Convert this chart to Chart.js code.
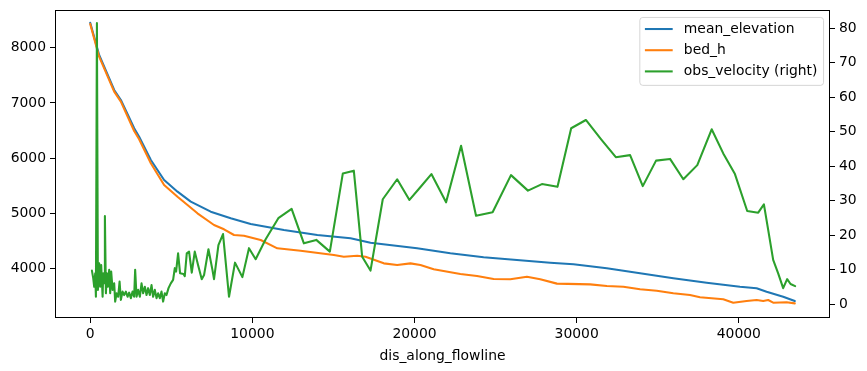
<!DOCTYPE html>
<html>
<head>
<meta charset="utf-8">
<script src="https://cdn.jsdelivr.net/npm/chart.js@4.4.0/dist/chart.umd.min.js"></script>
<style>
  html, body { margin: 0; padding: 0; background: #fff; }
  #wrap { width: 867px; height: 371px; }
</style>
</head>
<body>
<div id="wrap"><canvas id="chart" width="867" height="371"></canvas></div>
<script>
// values (distance in m along flowline)
const elevDist = [0, 550, 1478, 1890, 2710, 3017, 3738, 4557, 5382, 6200, 7432, 8664, 9895, 11946, 14003, 16053, 17285, 20160, 22210, 24261, 26317, 28368, 29803, 31860, 33910, 35960, 38017, 40068, 41096, 41712, 42734, 43450];
const meanElevation = [8450, 7868, 7234, 7053, 6541, 6389, 5967, 5605, 5394, 5213, 5032, 4912, 4809, 4700, 4610, 4550, 4471, 4369, 4279, 4206, 4157, 4109, 4080, 4007, 3917, 3826, 3747, 3674, 3645, 3584, 3493, 3415];

const bedDist = [0, 550, 1478, 1890, 2710, 3017, 3738, 4557, 5382, 6000, 6613, 7635, 8250, 8867, 9483, 10511, 11539, 12974, 15025, 15640, 16465, 16977, 18104, 18929, 19748, 20363, 21182, 22826, 23855, 24877, 25905, 26933, 27752, 28781, 30831, 31860, 32882, 33910, 34938, 35960, 36988, 37604, 39039, 39655, 40479, 41096, 41502, 41810, 42118, 42943, 43450];
const bedH = [8430, 7837, 7204, 7023, 6492, 6342, 5908, 5515, 5303, 5153, 5003, 4791, 4713, 4610, 4597, 4519, 4369, 4326, 4248, 4217, 4235, 4217, 4097, 4067, 4097, 4067, 3989, 3904, 3868, 3814, 3808, 3855, 3808, 3730, 3717, 3687, 3674, 3627, 3602, 3555, 3524, 3482, 3446, 3385, 3415, 3433, 3415, 3433, 3385, 3392, 3373];

const velDist = [105, 185, 246, 308, 351, 413, 474, 554, 616, 677, 764, 800, 862, 905, 967, 1028, 1090, 1170, 1232, 1293, 1379, 1478, 1539, 1626, 1724, 1810, 1890, 1995, 2094, 2198, 2303, 2401, 2506, 2611, 2709, 2771, 2857, 2956, 3060, 3165, 3264, 3368, 3473, 3571, 3676, 3781, 3879, 3984, 4089, 4187, 4292, 4397, 4495, 4600, 4704, 4828, 4969, 5111, 5216, 5296, 5419, 5542, 5751, 5831, 5954, 6096, 6262, 6447, 6650, 6878, 7020, 7291, 7537, 7635, 7906, 8190, 8559, 8929, 9384, 9791, 10203, 10819, 11601, 12420, 13177, 13941, 14778, 15579, 16256, 16773, 17285, 18042, 18929, 19686, 20302, 21041, 21946, 22870, 23793, 24815, 25948, 26995, 27857, 28817, 29661, 30567, 31509, 32414, 33294, 34076, 34895, 35757, 36576, 37438, 38325, 39039, 39760, 40517, 41195, 41546, 41810, 42118, 42426, 42734, 42980, 43190, 43473];
const obsVelocity = [9.7, 7.5, 5.0, 8.9, 2.1, 81.5, 4.1, 11.8, 5.0, 11.3, 2.1, 8.9, 6.0, 25.5, 3.1, 8.9, 5.0, 9.9, 3.1, 9.4, 4.1, 6.0, 0.7, 3.1, 2.1, 6.5, 1.2, 3.6, 2.6, 3.6, 2.1, 3.3, 1.7, 3.6, 2.1, 9.9, 2.1, 4.1, 2.1, 6.0, 3.1, 5.0, 2.6, 4.6, 2.6, 5.5, 2.1, 4.1, 1.7, 3.1, 1.7, 3.6, 0.7, 3.1, 2.6, 4.6, 6.0, 7.0, 10.4, 9.4, 14.7, 8.9, 8.7, 8.1, 14.7, 15.2, 9.1, 15.2, 11.3, 7.2, 8.4, 15.9, 9.9, 7.2, 17.1, 20.3, 2.1, 12.0, 7.8, 16.2, 13.0, 18.8, 24.9, 27.6, 17.6, 18.6, 15.2, 37.9, 38.7, 13.7, 9.7, 30.4, 36.2, 30.2, 33.6, 37.7, 29.5, 45.9, 25.6, 26.6, 37.4, 32.9, 34.8, 34.0, 51.0, 53.4, 47.8, 42.6, 43.2, 34.2, 41.6, 42.1, 36.2, 40.3, 50.7, 43.7, 37.7, 27.0, 26.5, 28.9, 21.5, 12.8, 8.9, 4.6, 7.2, 5.8, 5.2];

const xTicks = [0, 10000, 20000, 30000, 40000];
const leftTicks = [4000, 5000, 6000, 7000, 8000];
const rightTicks = [0, 10, 20, 30, 40, 50, 60, 70, 80];

const toPoints = (xs, ys) => xs.map((x, i) => ({ x, y: ys[i] }));
const font = { family: 'DejaVu Sans', size: 13.9 };

function fixTicks(values){
  return scale => { scale.ticks = values.map(v => ({ value: v })); };
}
function fixSize(prop, size){
  return scale => {
    scale[prop] = size;
    scale.paddingLeft = scale.paddingRight = scale.paddingTop = scale.paddingBottom = 0;
  };
}
const tickGrid = { drawOnChartArea: false, drawTicks: true, tickLength: 5, tickColor: '#000', tickWidth: 1 };

// axes frame on top of the lines
const framePlugin = {
  id: 'frame',
  afterDatasetsDraw(chart){
    const { ctx, chartArea: a } = chart;
    ctx.save();
    ctx.strokeStyle = '#000'; ctx.lineWidth = 1;
    ctx.strokeRect(a.left + 0.5, a.top + 0.5, a.width - 1, a.height - 1);
    ctx.restore();
  }
};

// matplotlib-like legend box in the upper right
const legendPlugin = {
  id: 'mplLegend',
  afterDraw(chart){
    const { ctx, chartArea: a } = chart;
    const fs = font.size;
    ctx.save();
    ctx.font = fs + 'px "DejaVu Sans"';
    const items = chart.data.datasets.map(d => ({ label: d.label, color: d.borderColor }));
    const textW = Math.max(...items.map(i => ctx.measureText(i.label).width));
    const pad = 0.4 * fs, handle = 2 * fs, gap = 0.8 * fs, rowH = 21.2;
    const w = pad + handle + gap + textW + pad;
    const h = pad * 2 + rowH * (items.length - 1) + 14.4;
    const x0 = a.right - 0.5 * fs - w, y0 = a.top + 0.5 * fs;
    ctx.beginPath();
    ctx.roundRect(x0 + 0.5, y0 + 0.5, w, h, 3);
    ctx.fillStyle = 'rgba(255,255,255,0.8)';
    ctx.fill();
    ctx.strokeStyle = 'rgba(204,204,204,0.8)';
    ctx.lineWidth = 1;
    ctx.stroke();
    items.forEach((it, i) => {
      const cy = y0 + pad + 6.5 + i * rowH;
      ctx.beginPath();
      ctx.moveTo(x0 + pad, cy); ctx.lineTo(x0 + pad + handle, cy);
      ctx.strokeStyle = it.color; ctx.lineWidth = 2.08;
      ctx.stroke();
      ctx.fillStyle = '#000';
      ctx.textBaseline = 'middle';
      ctx.fillText(it.label, x0 + pad + handle + gap, cy);
    });
    ctx.restore();
  }
};

new Chart(document.getElementById('chart'), {
  type: 'line',
  data: {
    datasets: [
      { label: 'mean_elevation', data: toPoints(elevDist, meanElevation), borderColor: '#1f77b4', yAxisID: 'y', order: 3 },
      { label: 'bed_h', data: toPoints(bedDist, bedH), borderColor: '#ff7f0e', yAxisID: 'y', order: 2 },
      { label: 'obs_velocity (right)', data: toPoints(velDist, obsVelocity), borderColor: '#2ca02c', yAxisID: 'y1', order: 1 }
    ]
  },
  options: {
    responsive: false,
    animation: false,
    devicePixelRatio: 1,
    events: [],
    layout: { padding: { top: 10, left: 0, right: 0, bottom: 0 } },
    elements: {
      line: { borderWidth: 2.08, tension: 0, fill: false, borderJoinStyle: 'round', borderCapStyle: 'round' },
      point: { radius: 0 }
    },
    plugins: { legend: { display: false }, tooltip: { enabled: false } },
    scales: {
      x: {
        type: 'linear', min: -2172, max: 45622,
        afterBuildTicks: fixTicks(xTicks),
        afterFit: fixSize('height', 53),
        grid: tickGrid, border: { display: false },
        ticks: { color: '#000', font, padding: 3, maxRotation: 0, autoSkip: false, callback: v => String(v) },
        title: { display: true, text: 'dis_along_flowline', color: '#000', font, padding: { top: 4, bottom: 6 } }
      },
      y: {
        type: 'linear', position: 'left', min: 3108, max: 8682,
        afterBuildTicks: fixTicks(leftTicks),
        afterFit: fixSize('width', 55),
        grid: tickGrid, border: { display: false },
        ticks: { color: '#000', font, padding: 4, autoSkip: false, callback: v => String(v) }
      },
      y1: {
        type: 'linear', position: 'right', min: -4.06, max: 85.31,
        afterBuildTicks: fixTicks(rightTicks),
        afterFit: fixSize('width', 37),
        grid: tickGrid, border: { display: false },
        ticks: { color: '#000', font, padding: 4, autoSkip: false, callback: v => String(v) }
      }
    }
  },
  plugins: [framePlugin, legendPlugin]
});
</script>
</body>
</html>
